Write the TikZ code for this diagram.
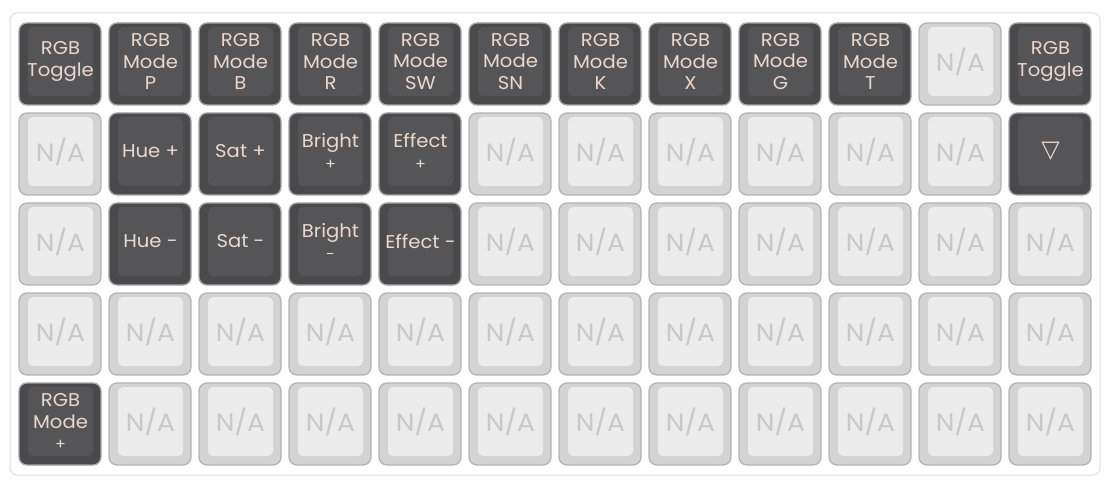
\documentclass[tikz,border=0pt]{standalone}
\usepackage{fontspec}
\setmainfont{Poppins}[FakeStretch=1.06]
\newfontfamily\symfont{DejaVu Sans}
\definecolor{dkout}{HTML}{4A4A4C}
\definecolor{dkin}{HTML}{555557}
\definecolor{dkedge}{HTML}{A4A4A4}
\definecolor{dktext}{HTML}{EAD8CF}
\definecolor{ltout}{HTML}{D3D3D3}
\definecolor{ltin}{HTML}{ECECEC}
\definecolor{ltedge}{HTML}{B4B4B4}
\definecolor{lttext}{HTML}{C8C8C8}
\definecolor{panel}{HTML}{DDDDDD}
\newcommand\keysm{\fontsize{15}{16}\selectfont}
\tikzset{
  keybase/.style={rounded corners=8pt, minimum width=82pt, minimum height=82pt, line width=1.3pt, inner sep=0pt},
  keytopbase/.style={rounded corners=5pt, minimum width=65pt, minimum height=69pt, inner sep=0pt},
  dkkey/.style={keybase, fill=dkout, draw=dkedge},
  dktop/.style={keytopbase, fill=dkin},
  dktxt/.style={text=dktext, align=center, font=\fontsize{18.5}{21.7}\selectfont, inner sep=0pt},
  ltkey/.style={keybase, fill=ltout, draw=ltedge},
  lttop/.style={keytopbase, fill=ltin},
  lttxt/.style={text=lttext, align=center, font=\fontsize{25}{26}\selectfont, inner sep=0pt},
}
% #1 column, #2 row, #3 dk/lt, #4 text
\newcommand\kkey[4]{%
  \node[#3key] (k-#1-#2) at (60+90*#1, 64+90*#2) {};
  \node[#3top] (t-#1-#2) at (60.5+90*#1, 61.5+90*#2) {};
  \node[#3txt] (x-#1-#2) at (t-#1-#2.center) {#4};
}
\begin{document}
\begin{tikzpicture}[x=1pt, y=-1pt]
\useasboundingbox (0,0) rectangle (1110,486);
\fill[white] (0,0) rectangle (1110,486);
\node[draw=panel, line width=1pt, fill=white, rounded corners=7pt, minimum width=1090pt, minimum height=462pt, inner sep=0pt] (panel) at (555,244) {};
% row 0
\kkey{0}{0}{dk}{RGB\\Toggle}
\kkey{1}{0}{dk}{RGB\\Mode\\P}
\kkey{2}{0}{dk}{RGB\\Mode\\B}
\kkey{3}{0}{dk}{RGB\\Mode\\R}
\kkey{4}{0}{dk}{RGB\\Mode\\SW}
\kkey{5}{0}{dk}{RGB\\Mode\\SN}
\kkey{6}{0}{dk}{RGB\\Mode\\K}
\kkey{7}{0}{dk}{RGB\\Mode\\X}
\kkey{8}{0}{dk}{RGB\\Mode\\G}
\kkey{9}{0}{dk}{RGB\\Mode\\T}
\kkey{10}{0}{lt}{N/A}
\kkey{11}{0}{dk}{RGB\\Toggle}
% row 1
\kkey{0}{1}{lt}{N/A}
\kkey{1}{1}{dk}{Hue +}
\kkey{2}{1}{dk}{Sat +}
\kkey{3}{1}{dk}{Bright\\{\keysm +}}
\kkey{4}{1}{dk}{Effect\\{\keysm +}}
\foreach \c in {5,...,10} {\kkey{\c}{1}{lt}{N/A}}
\kkey{11}{1}{dk}{{\symfont\fontsize{24}{26}\selectfont ▽}}
% row 2
\kkey{0}{2}{lt}{N/A}
\kkey{1}{2}{dk}{Hue -}
\kkey{2}{2}{dk}{Sat -}
\kkey{3}{2}{dk}{Bright\\{\keysm -}}
\kkey{4}{2}{dk}{Effect -}
\foreach \c in {5,...,11} {\kkey{\c}{2}{lt}{N/A}}
% row 3
\foreach \c in {0,...,11} {\kkey{\c}{3}{lt}{N/A}}
% row 4
\kkey{0}{4}{dk}{RGB\\Mode\\{\keysm +}}
\foreach \c in {1,...,11} {\kkey{\c}{4}{lt}{N/A}}
\end{tikzpicture}
\end{document}
